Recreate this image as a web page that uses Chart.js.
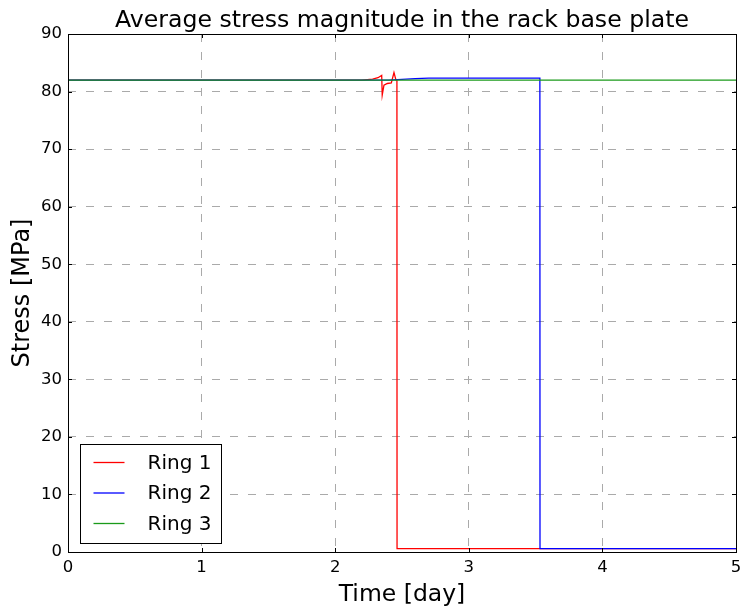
<!DOCTYPE html>
<html lang="en">
<head>
  <meta charset="UTF-8">
  <title>Rack base plate stress</title>
  <script src="https://cdn.jsdelivr.net/npm/chart.js"></script>
  <style>
    body {
      margin: 0;
      background: #ffffff;
      font-family: "DejaVu Sans", sans-serif;
    }
    #wrap {
      width: 740px;
      height: 609px;
    }
  </style>
</head>
<body>
  <div id="wrap">
    <canvas id="stressChart" width="740" height="609"></canvas>
  </div>

  <script>
    // average stress per ring, time in days, stress in MPa
    const chartTitle = 'Average stress magnitude in the rack base plate';
    const ringLabels = ['Ring 1', 'Ring 2', 'Ring 3'];
    const ringColors = ['#ff0000', '#0000ff', '#1a9a1a'];

    const timeRing1   = [0, 2.2, 2.28, 2.32, 2.348, 2.352, 2.365, 2.39, 2.42, 2.44, 2.455, 2.462, 2.463, 5];
    const stressRing1 = [82, 82, 82.15, 82.4, 82.8, 79.4, 81.1, 81.4, 81.5, 83.3, 82.0, 82.0, 0.6, 0.6];

    const timeRing2   = [0, 2.4, 2.5, 2.6, 2.7, 3.532, 3.533, 5];
    const stressRing2 = [82, 82, 82.1, 82.25, 82.35, 82.35, 0.6, 0.6];

    const timeRing3   = [0, 5];
    const stressRing3 = [82, 82];

    const xTicks = [0, 1, 2, 3, 4, 5];
    const yTicks = [0, 10, 20, 30, 40, 50, 60, 70, 80, 90];

    const toPoints = (xs, ys) => xs.map((x, i) => ({ x: x, y: ys[i] }));
    const series = [
      toPoints(timeRing1, stressRing1),
      toPoints(timeRing2, stressRing2),
      toPoints(timeRing3, stressRing3)
    ];

    // title centred over the plot area rather than the whole canvas
    const plotTitle = {
      id: 'plotTitle',
      afterDraw(chart) {
        const { ctx, chartArea: a } = chart;
        ctx.save();
        ctx.font = '23.6px "DejaVu Sans"';
        ctx.fillStyle = '#000';
        ctx.textAlign = 'center';
        ctx.textBaseline = 'alphabetic';
        ctx.fillText(chartTitle, (a.left + a.right) / 2, a.top - 7);
        ctx.restore();
      }
    };

    // black frame plus small inward tick marks on all four sides
    const frameTicks = {
      id: 'frameTicks',
      afterDraw(chart) {
        const { ctx, chartArea: a, scales } = chart;
        ctx.save();
        ctx.strokeStyle = '#000';
        ctx.lineWidth = 1;
        ctx.beginPath();
        scales.x.ticks.forEach(t => {
          const px = Math.round(scales.x.getPixelForValue(t.value)) + 0.5;
          ctx.moveTo(px, a.bottom); ctx.lineTo(px, a.bottom - 4);
          ctx.moveTo(px, a.top); ctx.lineTo(px, a.top + 4);
        });
        scales.y.ticks.forEach(t => {
          const py = Math.round(scales.y.getPixelForValue(t.value)) + 0.5;
          ctx.moveTo(a.left, py); ctx.lineTo(a.left + 4, py);
          ctx.moveTo(a.right, py); ctx.lineTo(a.right - 4, py);
        });
        ctx.stroke();
        ctx.strokeRect(Math.round(a.left) + 0.5, Math.round(a.top) + 0.5,
                       Math.round(a.right - a.left), Math.round(a.bottom - a.top));
        ctx.restore();
      }
    };

    // legend box in the lower-left corner of the plot area
    const legendBox = {
      id: 'legendBox',
      afterDraw(chart) {
        const { ctx, chartArea: a } = chart;
        const left = Math.round(a.left) + 12.5, bottom = Math.round(a.bottom) - 8.5;
        const w = 141, h = 99;
        const top = bottom - h;
        ctx.save();
        ctx.fillStyle = '#ffffff';
        ctx.fillRect(left, top, w, h);
        ctx.strokeStyle = '#000';
        ctx.lineWidth = 1;
        ctx.strokeRect(left, top, w, h);
        ctx.font = '20px "DejaVu Sans"';
        ctx.textBaseline = 'middle';
        ctx.fillStyle = '#000';
        chart.data.datasets.forEach((ds, i) => {
          const y = top + 18 + i * 30.5;
          ctx.strokeStyle = ds.borderColor;
          ctx.lineWidth = 1.3;
          ctx.beginPath();
          ctx.moveTo(left + 13, y);
          ctx.lineTo(left + 44, y);
          ctx.stroke();
          ctx.fillText(ds.label, left + 67, y + 1);
        });
        ctx.restore();
      }
    };

    new Chart(document.getElementById('stressChart'), {
      type: 'line',
      data: {
        datasets: series.map((pts, i) => ({
          label: ringLabels[i],
          data: pts,
          borderColor: ringColors[i],
          borderWidth: 1.3,
          pointRadius: 0,
          fill: false,
          tension: 0,
          order: 2 - i
        }))
      },
      options: {
        responsive: false,
        animation: false,
        events: [],
        layout: { padding: { left: 0, right: 0, top: 34, bottom: 0 } },
        plugins: {
          legend: { display: false },
          tooltip: { enabled: false },
          title: { display: false }
        },
        scales: {
          x: {
            type: 'linear',
            min: 0,
            max: 5,
            afterBuildTicks: s => { s.ticks = xTicks.map(v => ({ value: v })); },
            afterFit: s => { s.height = 57; s.paddingLeft = 0; s.paddingRight = 4; },
            ticks: {
              color: '#000',
              padding: 6,
              maxRotation: 0,
              font: { family: 'DejaVu Sans', size: 16.5 }
            },
            grid: { color: '#aaaaaa', lineWidth: 1, drawTicks: false },
            border: { display: false, dash: [8, 10] },
            title: {
              display: true,
              text: 'Time [day]',
              color: '#000',
              font: { family: 'DejaVu Sans', size: 23.5 },
              padding: { top: 0, bottom: 0 }
            }
          },
          y: {
            type: 'linear',
            min: 0,
            max: 90,
            afterBuildTicks: s => { s.ticks = yTicks.map(v => ({ value: v })); },
            afterFit: s => { s.width = 68; s.paddingTop = 0; s.paddingBottom = 0; },
            ticks: {
              color: '#000',
              padding: 6,
              font: { family: 'DejaVu Sans', size: 16.5 }
            },
            grid: { color: '#aaaaaa', lineWidth: 1, drawTicks: false },
            border: { display: false, dash: [8, 10] },
            title: {
              display: true,
              text: 'Stress [MPa]',
              color: '#000',
              font: { family: 'DejaVu Sans', size: 24 },
              padding: { top: 8, bottom: 0 }
            }
          }
        }
      },
      plugins: [plotTitle, frameTicks, legendBox]
    });
  </script>
</body>
</html>
